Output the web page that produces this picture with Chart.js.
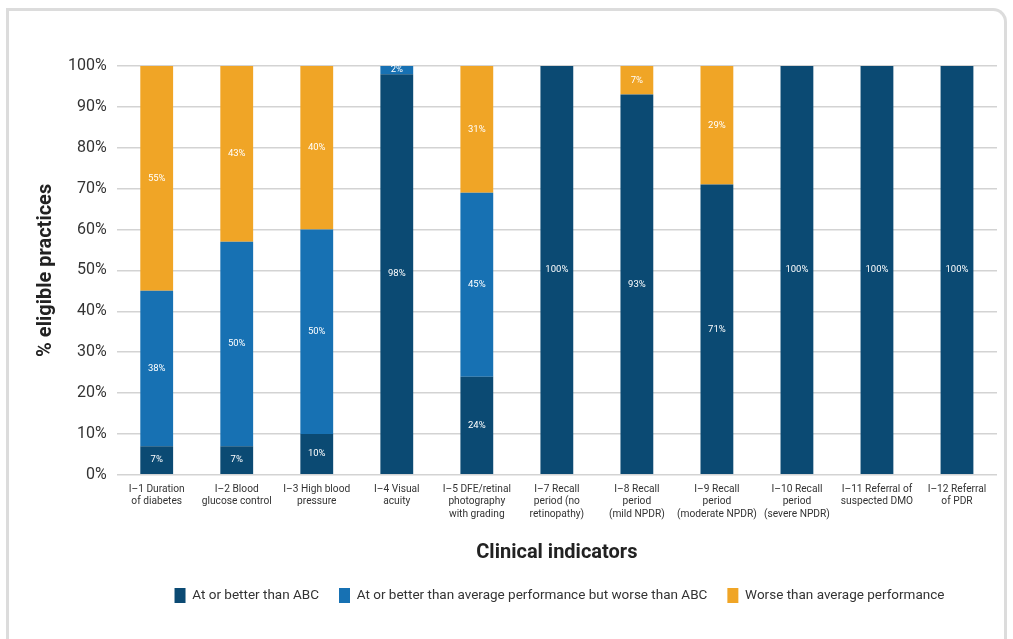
<!DOCTYPE html>
<html>
<head>
<meta charset="utf-8">
<script src="https://cdn.jsdelivr.net/npm/chart.js@4/dist/chart.umd.min.js"></script>
<style>
  html, body { margin: 0; padding: 0; background: #fff; }
  #frame {
    position: absolute; left: 6px; top: 8px; width: 1001px; height: 640px;
    border: 3px solid #dcdcdc; border-bottom: none; border-radius: 0 14px 0 0;
    box-sizing: border-box;
  }
  #wrap { position: absolute; left: 0; top: 0; width: 1013px; height: 639px; }
</style>
</head>
<body>
<div id="frame"></div>
<div id="wrap"><canvas id="chart"></canvas></div>
<script>
// categories (multi-line labels)
const categories = [
    ['I\u20131 Duration', 'of diabetes'],
    ['I\u20132 Blood', 'glucose control'],
    ['I\u20133 High blood', 'pressure'],
    ['I\u20134 Visual', 'acuity'],
    ['I\u20135 DFE/retinal', 'photography', 'with grading'],
    ['I\u20137 Recall', 'period (no', 'retinopathy)'],
    ['I\u20138 Recall', 'period', '(mild NPDR)'],
    ['I\u20139 Recall', 'period', '(moderate NPDR)'],
    ['I\u201310 Recall', 'period', '(severe NPDR)'],
    ['I\u201311 Referral of', 'suspected DMO'],
    ['I\u201312 Referral', 'of PDR']
];

const seriesNames = [
    'At or better than ABC',
    'At or better than average performance but worse than ABC',
    'Worse than average performance'
];

const betterThanAbc   = [7, 7, 10, 98, 24, 100, 93, 71, 100, 100, 100];
const betterThanAvg   = [38, 50, 50, 2, 45, 0, 0, 0, 0, 0, 0];
const worseThanAvg    = [55, 43, 40, 0, 31, 0, 7, 29, 0, 0, 0];

const yTicks = [0, 10, 20, 30, 40, 50, 60, 70, 80, 90, 100];

const colors = ['#0b4a73', '#1771b3', '#f0a526'];
const FONT = 'Roboto, "Liberation Sans", sans-serif';

// draws the % value in the middle of each segment
const segmentLabels = {
    id: 'segmentLabels',
    afterDatasetsDraw(chart) {
        const ctx = chart.ctx;
        ctx.save();
        ctx.font = '9.5px ' + FONT;
        ctx.fillStyle = '#ffffff';
        ctx.textAlign = 'center';
        ctx.textBaseline = 'middle';
        chart.data.datasets.forEach((ds, i) => {
            const meta = chart.getDatasetMeta(i);
            meta.data.forEach((bar, j) => {
                const v = ds.data[j];
                if (!v) return;
                const { x, y, base } = bar.getProps(['x', 'y', 'base'], true);
                ctx.fillText(v + '%', x, (y + base) / 2);
            });
        });
        ctx.restore();
    }
};

// legend in the reference is centred under the plot, not the canvas
const shiftLegend = {
    id: 'shiftLegend',
    afterLayout(chart) {
        const lg = chart.legend;
        if (!lg) return;
        lg.left += 46;
        lg.right += 46;
    }
};

new Chart(document.getElementById('chart'), {
    type: 'bar',
    data: {
        labels: categories,
        datasets: [betterThanAbc, betterThanAvg, worseThanAvg].map((d, i) => ({
            label: seriesNames[i],
            data: d,
            backgroundColor: colors[i],
            borderWidth: 0,
            categoryPercentage: 1,
            barPercentage: 0.41
        }))
    },
    options: {
        responsive: true,
        maintainAspectRatio: false,
        animation: false,
        layout: { padding: { left: 30, right: 16, top: 66, bottom: 26 } },
        plugins: {
            tooltip: { enabled: false },
            legend: {
                position: 'bottom',
                labels: {
                    color: '#333',
                    font: { family: FONT, size: 13.5 },
                    boxWidth: 11,
                    boxHeight: 15,
                    padding: 20
                }
            }
        },
        scales: {
            x: {
                stacked: true,
                grid: { display: false },
                border: { display: false },
                ticks: {
                    color: '#333',
                    font: { family: FONT, size: 10.2, lineHeight: 1.25 },
                    maxRotation: 0,
                    autoSkip: false,
                    padding: 0
                },
                title: {
                    display: true,
                    text: 'Clinical indicators',
                    color: '#222',
                    font: { family: FONT, size: 20, weight: 'bold' },
                    padding: { top: 20, bottom: 3 }
                }
            },
            y: {
                stacked: true,
                min: 0,
                max: 100,
                afterBuildTicks: axis => { axis.ticks = yTicks.map(v => ({ value: v })); },
                grid: { color: '#d3d3d3', lineWidth: 1.5, drawTicks: false },
                border: { display: false },
                ticks: {
                    color: '#333',
                    font: { family: FONT, size: 16 },
                    padding: 10,
                    callback: v => v + '%'
                },
                title: {
                    display: true,
                    text: '% eligible practices',
                    color: '#222',
                    font: { family: FONT, size: 20, weight: 'bold' },
                    padding: { top: 4, bottom: 0 }
                }
            }
        }
    },
    plugins: [segmentLabels, shiftLegend]
});
</script>
</body>
</html>
